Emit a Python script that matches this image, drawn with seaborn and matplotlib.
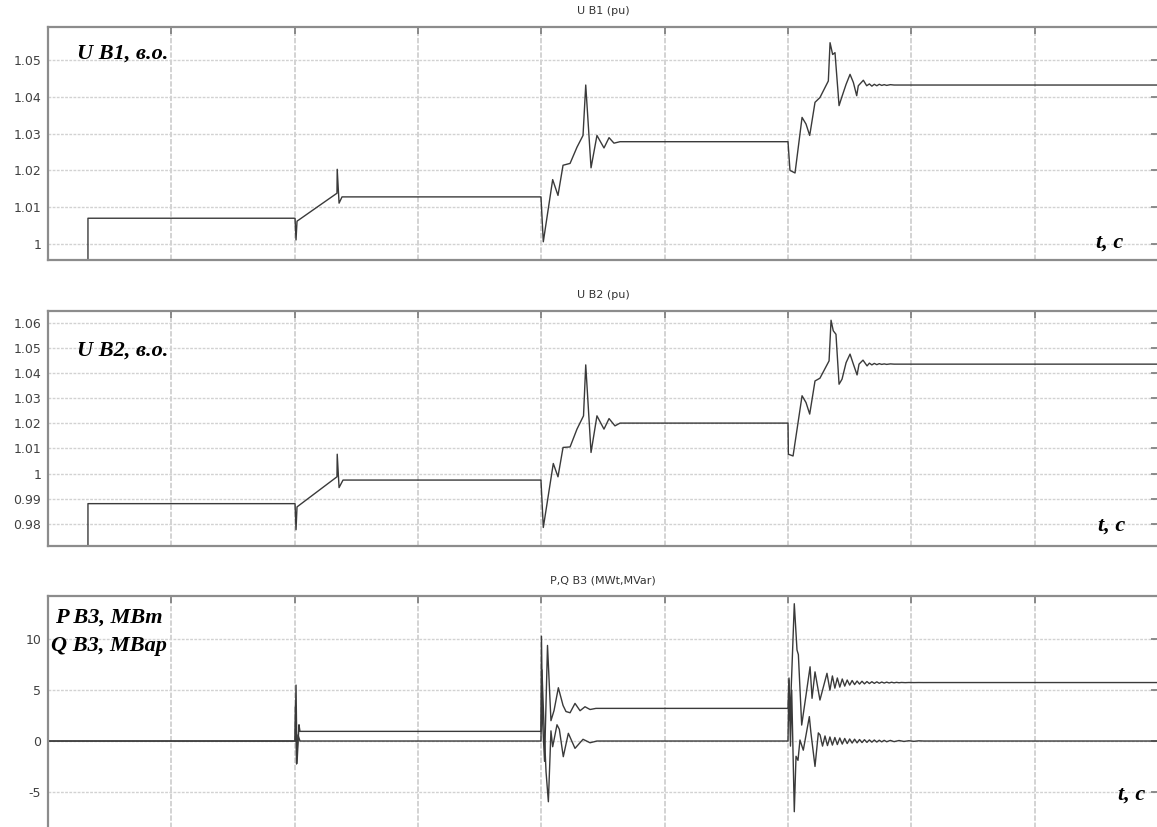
import numpy as np
import pandas as pd
import matplotlib
matplotlib.use("Agg")
import matplotlib.pyplot as plt
import seaborn as sns

# ---- data -------------------------------------------------------------
# Bus B1 voltage, p.u.
t_ub1 = [0.324, 0.324, 2.003, 2.011, 2.019, 2.343, 2.345, 2.360, 2.384, 3.997,
         4.016, 4.092, 4.135, 4.176, 4.233, 4.289, 4.338, 4.360, 4.403, 4.451,
         4.508, 4.549, 4.589, 4.638, 6.000, 6.016, 6.057, 6.114, 6.146, 6.176,
         6.219, 6.259, 6.327, 6.341, 6.362, 6.381, 6.414, 6.435, 6.471, 6.503,
         6.530, 6.557, 6.570, 6.611, 6.638, 6.66, 6.68, 6.70, 6.72, 6.74,
         6.76, 6.78, 6.80, 6.83, 6.86, 9.0]
u_b1 = [0.0, 1.007, 1.007, 1.0011, 1.0062, 1.0138, 1.0203, 1.0111, 1.0128, 1.0128,
        1.0006, 1.0175, 1.0132, 1.0214, 1.0219, 1.0263, 1.0295, 1.0432, 1.0207, 1.0295,
        1.0261, 1.0289, 1.0274, 1.0278, 1.0278, 1.0200, 1.0193, 1.0344, 1.0326, 1.0295,
        1.0385, 1.0398, 1.0443, 1.0547, 1.0515, 1.0520, 1.0376, 1.0398, 1.0434, 1.0461,
        1.0439, 1.0403, 1.0430, 1.0445, 1.0430, 1.0435, 1.0429, 1.0434, 1.0430, 1.0434,
        1.0431, 1.0433, 1.0431, 1.0433, 1.0432, 1.0432]

# Bus B2 voltage, p.u.
t_ub2 = [0.324, 0.324, 2.003, 2.011, 2.019, 2.343, 2.345, 2.360, 2.392, 3.997,
         4.016, 4.097, 4.135, 4.176, 4.233, 4.289, 4.342, 4.360, 4.403, 4.451,
         4.508, 4.549, 4.597, 4.638, 6.000, 6.003, 6.041, 6.114, 6.146, 6.176,
         6.219, 6.259, 6.333, 6.349, 6.367, 6.389, 6.414, 6.438, 6.471, 6.503,
         6.530, 6.560, 6.576, 6.608, 6.641, 6.66, 6.68, 6.70, 6.72, 6.74,
         6.76, 6.78, 6.80, 6.83, 6.86, 9.0]
u_b2 = [0.0, 0.988, 0.988, 0.9776, 0.9867, 0.9987, 1.0077, 0.9944, 0.9974, 0.9974,
        0.9785, 1.0040, 0.9987, 1.0104, 1.0106, 1.0177, 1.0230, 1.0433, 1.0084, 1.0230,
        1.0177, 1.0219, 1.0190, 1.0201, 1.0201, 1.0077, 1.0070, 1.0310, 1.0283, 1.0237,
        1.0369, 1.0380, 1.0449, 1.0611, 1.0569, 1.0555, 1.0356, 1.0376, 1.0442, 1.0476,
        1.0436, 1.0393, 1.0436, 1.0452, 1.0429, 1.0440, 1.0433, 1.0439, 1.0434, 1.0438,
        1.0435, 1.0437, 1.0435, 1.0437, 1.0436, 1.0436]

# Bus B3 active power, MW
t_p = [0.0, 2.003, 2.011, 2.019, 2.035, 2.043, 3.997, 4.001, 4.010, 4.026,
       4.050, 4.078, 4.103, 4.138, 4.176, 4.200, 4.233, 4.273, 4.314, 4.354,
       4.395, 4.443, 6.000, 6.008, 6.016, 6.030, 6.051, 6.073, 6.084, 6.111,
       6.146, 6.179, 6.195, 6.219, 6.259, 6.316, 6.34, 6.36, 6.38, 6.40,
       6.42, 6.44, 6.46, 6.48, 6.50, 6.52, 6.54, 6.56, 6.58, 6.60,
       6.62, 6.64, 6.66, 6.68, 6.70, 6.72, 6.74, 6.76, 6.78, 6.80,
       6.82, 6.84, 6.86, 6.88, 6.90, 6.92, 6.95, 6.98, 7.02, 7.06,
       7.10, 7.15, 9.0]
p_b3 = [0.0, 0.0, 5.5, -2.2, 1.6, 0.95, 0.95, 10.3, 2.0, -2.0,
        9.4, 2.0, 3.0, 5.24, 3.5, 2.9, 2.78, 3.7, 2.98, 3.37,
        3.10, 3.21, 3.21, 6.2, 2.0, 6.5, 13.5, 8.95, 8.5, 1.57,
        4.5, 7.3, 4.2, 6.8, 4.03, 6.66, 5.0, 6.4, 5.2, 6.2,
        5.3, 6.1, 5.4, 6.0, 5.5, 5.95, 5.55, 5.9, 5.6, 5.88,
        5.62, 5.85, 5.65, 5.83, 5.67, 5.82, 5.68, 5.80, 5.70, 5.79,
        5.71, 5.78, 5.72, 5.77, 5.73, 5.76, 5.74, 5.755, 5.745, 5.752,
        5.748, 5.75, 5.75]

# Bus B3 reactive power, Mvar
t_q = [0.0, 2.003, 2.007, 2.015, 2.027, 2.043, 3.997, 4.005, 4.020, 4.038,
       4.057, 4.078, 4.092, 4.127, 4.146, 4.178, 4.219, 4.273, 4.338, 4.395,
       4.451, 6.000, 6.008, 6.020, 6.030, 6.051, 6.065, 6.081, 6.097, 6.124,
       6.173, 6.186, 6.219, 6.246, 6.26, 6.28, 6.30, 6.32, 6.34, 6.36,
       6.38, 6.40, 6.42, 6.44, 6.46, 6.48, 6.50, 6.52, 6.54, 6.56,
       6.58, 6.60, 6.62, 6.64, 6.66, 6.68, 6.70, 6.72, 6.74, 6.76,
       6.78, 6.80, 6.83, 6.86, 6.90, 6.94, 6.98, 7.02, 7.06, 7.10,
       9.0]
q_b3 = [0.0, 0.0, 3.5, -2.26, 0.6, 0.0, 0.0, 7.0, 2.0, -3.0,
        -5.97, 1.0, -0.56, 1.6, 1.15, -1.54, 0.76, -0.72, 0.17, -0.17,
        0.0, 0.0, 6.0, -0.5, 5.0, -6.95, -1.5, -1.9, 0.1, -0.9,
        2.4, 0.8, -2.5, 0.8, 0.6, -0.5, 0.5, -0.45, 0.4, -0.4,
        0.35, -0.35, 0.3, -0.3, 0.25, -0.25, 0.2, -0.2, 0.18, -0.18,
        0.15, -0.15, 0.13, -0.13, 0.11, -0.11, 0.1, -0.1, 0.08, -0.08,
        0.07, -0.07, 0.06, -0.06, 0.05, -0.04, 0.03, -0.03, 0.02, 0.0,
        0.0]

ub1_ticks = [1.00, 1.01, 1.02, 1.03, 1.04, 1.05]
ub1_labels = ["1", "1.01", "1.02", "1.03", "1.04", "1.05"]
ub2_ticks = [0.98, 0.99, 1.00, 1.01, 1.02, 1.03, 1.04, 1.05, 1.06]
ub2_labels = ["0.98", "0.99", "1", "1.01", "1.02", "1.03", "1.04", "1.05", "1.06"]
pq_ticks = [-5, 0, 5, 10]
pq_labels = ["-5", "0", "5", "10"]
time_ticks = [0, 1, 2, 3, 4, 5, 6, 7, 8, 9]

titles = ["U B1 (pu)", "U B2 (pu)", "P,Q B3 (MWt,MVar)"]
names = ["U B1, в.о.", "U B2, в.о.", "P B3, MBm\nQ B3, MBap"]
t_label = "t, c"

# ---- style ------------------------------------------------------------
sns.set_style("white")
plt.rcParams["font.family"] = ["DejaVu Sans"]

W, H = 1157, 827
fig = plt.figure(figsize=(W / 100, H / 100), dpi=100)


def px_axes(left, top, right, bottom):
    return fig.add_axes([left / W, 1 - bottom / H, (right - left) / W, (bottom - top) / H])


ax1 = px_axes(48, 27, 1158, 260)
ax2 = px_axes(48, 311, 1158, 546)
ax3 = px_axes(48, 596, 1158, 829)

line_col = "#3a3a3a"

sns.lineplot(data=pd.DataFrame({"t": t_ub1, "v": u_b1}), x="t", y="v", ax=ax1,
             color=line_col, lw=1.0, estimator=None, sort=False)
sns.lineplot(data=pd.DataFrame({"t": t_ub2, "v": u_b2}), x="t", y="v", ax=ax2,
             color=line_col, lw=1.0, estimator=None, sort=False)
sns.lineplot(data=pd.DataFrame({"t": t_q, "v": q_b3}), x="t", y="v", ax=ax3,
             color=line_col, lw=1.0, estimator=None, sort=False)
sns.lineplot(data=pd.DataFrame({"t": t_p, "v": p_b3}), x="t", y="v", ax=ax3,
             color=line_col, lw=1.0, estimator=None, sort=False)

limits = [(0.99565, 1.05897), (0.97112, 1.06478), (-8.65, 14.26)]
yticks = [(ub1_ticks, ub1_labels), (ub2_ticks, ub2_labels), (pq_ticks, pq_labels)]

for ax, lim, (tk, lb), title in zip([ax1, ax2, ax3], limits, yticks, titles):
    ax.set_xlim(0, 9)
    ax.set_ylim(*lim)
    ax.set_xticks(time_ticks)
    ax.set_xticklabels([])
    ax.set_yticks(tk)
    ax.set_yticklabels(lb)
    ax.set_xlabel("")
    ax.set_ylabel("")
    ax.grid(True, axis="y", color="#d2d2d2", linestyle=(0, (2, 1)), linewidth=1.0)
    ax.grid(True, axis="x", color="#d0d0d0", linestyle=(0, (3, 1)), linewidth=1.3)
    ax.set_axisbelow(True)
    for sp in ax.spines.values():
        sp.set_color("#8c8c8c")
        sp.set_linewidth(1.6)
    ax.tick_params(axis="both", direction="in", length=5, width=1.2, color="#7a7a7a",
                   top=True, right=True, labelsize=9, labelcolor="#404040", pad=5)
    ax.set_title(title, fontsize=8, color="#333333", pad=9)

# ---- in-plot captions ------------------------------------------------
cap = dict(family=["Liberation Serif", "DejaVu Serif"], fontweight="bold",
           fontstyle="italic", fontsize=16, color="black")


def ftext(x, y, s, **kw):
    fig.text(x / W, 1 - y / H, s, va="baseline", **kw)


ftext(77, 59, names[0], **cap)
ftext(77, 356, names[1], **cap)
lines3 = names[2].split("\n")
ftext(55, 623, lines3[0], **cap)
ftext(51, 651, lines3[1], **cap)

ftext(1096, 248, t_label, **cap)
ftext(1098, 531, t_label, **cap)
ftext(1118, 800, t_label, **cap)

fig.savefig("out.png", dpi=100)
